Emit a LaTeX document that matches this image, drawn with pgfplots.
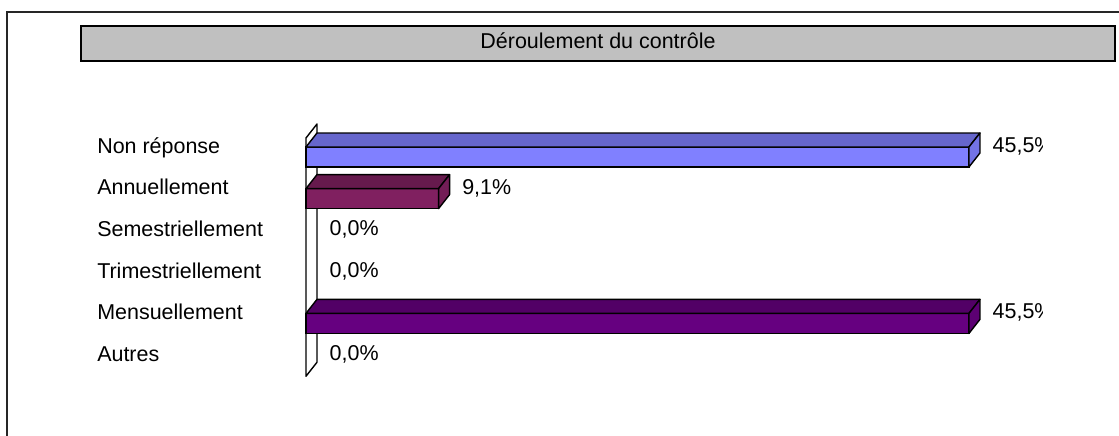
\documentclass[border=0pt]{standalone}
\usepackage{pgfplots}
\pgfplotsset{compat=1.18}
\usepackage{fontspec}
\setmainfont{Liberation Sans}
\newlength\px
\setlength\px{0.75pt}
\definecolor{nrF}{HTML}{8080FF}
\definecolor{nrT}{HTML}{6666CC}
\definecolor{nrS}{HTML}{7373E6}
\definecolor{anF}{HTML}{802060}
\definecolor{anT}{HTML}{661A4D}
\definecolor{anS}{HTML}{731D56}
\definecolor{meF}{HTML}{660080}
\definecolor{meT}{HTML}{520066}
\definecolor{meS}{HTML}{5C0073}
\definecolor{titlegray}{HTML}{C0C0C0}
\newcommand\lblfont{\fontsize{16.1}{19}\selectfont}
\pgfdeclareplotmark{nothing}{}
\pgfplotsset{
  box3d/.style 2 args={scatter, only marks, mark=nothing,
    visualization depends on={x \as \barval},
    scatter/@pre marker code/.code={%
      \pgfmathsetmacro\barlen{\barval*14.571}%
      \pgfmathsetmacro\barlenb{\barval*14.571-11}%
      \filldraw[fill=#1, draw=black, line width=1.4\px, line join=round]
        (-\barlen\px,10\px) -- (0pt,10\px) -- (11\px,24\px) -- (-\barlenb\px,24\px) -- cycle;
      \filldraw[fill=#2, draw=black, line width=1.4\px, line join=round]
        (0pt,-10\px) -- (0pt,10\px) -- (11\px,24\px) -- (11\px,4\px) -- cycle;
    },
    scatter/@post marker code/.code={}},
  valbar/.style={xbar, bar width=20\px, bar shift=0pt, draw=black, line width=1.4\px,
    point meta=x,
    nodes near coords={\pgfmathprintnumber[fixed,fixed zerofill,precision=1,use comma,assume math mode=true]{\pgfplotspointmeta}\%},
    every node near coord/.style={anchor=base west, inner sep=0pt, xshift=23\px, yshift=4.5\px, font=\lblfont, text=black}},
}
\begin{document}
\begin{tikzpicture}[font=\lblfont]
\useasboundingbox (0,0) rectangle (1119\px,-435\px);
\draw[line width=1.8\px, black!85] (7\px,-1000\px) -- (7\px,-12\px) -- (1200\px,-12\px);
\draw[line width=1.5\px, fill=titlegray] (81\px,-26\px) rectangle (1115\px,-61\px);
\node[anchor=base, inner sep=0pt] at (598\px,-48.7\px) {Déroulement du contrôle};
\begin{scope}
\clip (0,0) rectangle (1042\px,-435\px);
\begin{axis}[
  at={(306\px,-385.8\px)}, anchor=south west,
  scale only axis, width=735.8\px, height=249.6\px,
  xmin=0, xmax=50.5, ymin=-0.5, ymax=5.5,
  axis line style={draw=none}, tick style={draw=none},
  xtick=\empty, ytick={0,1,2,3,4,5},
  yticklabels={Autres,Mensuellement,Trimestriellement,Semestriellement,Annuellement,Non réponse},
  yticklabel style={anchor=base west, xshift=-209\px, yshift=3.8\px, inner sep=0pt, font=\lblfont},
  clip=false,
]
\draw[fill=white, line width=1.4\px, line join=round] (axis cs:0,-0.27) -- (axis cs:0,5.457) -- ++(11\px,14\px) -- ([shift={(11\px,14\px)}]axis cs:0,-0.27) -- cycle;
% Non reponse
\addplot[box3d={nrT}{nrS}] coordinates {(45.5,5)};
\addplot[valbar, fill=nrF] coordinates {(45.5,5)};
% Annuellement
\addplot[box3d={anT}{anS}] coordinates {(9.1,4)};
\addplot[valbar, fill=anF] coordinates {(9.1,4)};
% Semestriellement
\addplot[valbar, draw=none, fill=none] coordinates {(0,3)};
% Trimestriellement
\addplot[valbar, draw=none, fill=none] coordinates {(0,2)};
% Mensuellement
\addplot[box3d={meT}{meS}] coordinates {(45.5,1)};
\addplot[valbar, fill=meF] coordinates {(45.5,1)};
% Autres
\addplot[valbar, draw=none, fill=none] coordinates {(0,0)};
\end{axis}
\end{scope}
\end{tikzpicture}
\end{document}
